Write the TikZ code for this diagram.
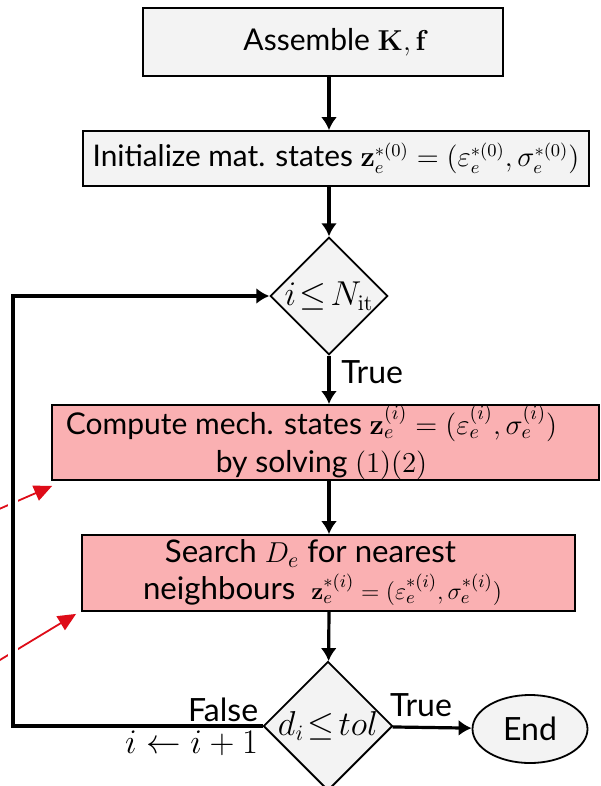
\documentclass[tikz,border=0pt]{standalone}
\usepackage[no-math]{fontspec}
\setmainfont{Lato}
\usepackage{amsmath}
\usepackage{tikz}
\usetikzlibrary{shapes.geometric,arrows.meta}
\definecolor{boxgray}{RGB}{243,243,243}
\definecolor{boxpink}{RGB}{250,176,178}
\definecolor{linkred}{RGB}{222,12,24}
\newcommand{\fsz}[1]{\fontsize{#1}{1.2\dimexpr#1pt\relax}\selectfont}

\begin{document}
\begin{tikzpicture}[x=0.5pt,y=-0.5pt,>={Latex[length=6.5pt,width=8pt]},
    font=\fsz{16},
    stepbox/.style={draw,line width=0.9pt,inner sep=0pt,align=center},
    decide/.style={diamond,draw,line width=0.9pt,fill=boxgray,inner sep=0pt},
    flow/.style={->,line width=1.6pt}]
        \useasboundingbox (0,0) rectangle (600,786);
        % boxes
        \node[stepbox,fill=boxgray,minimum width=180pt,minimum height=34pt,font=\fsz{15}] (asm) at (323,42) {\hspace{13pt}Assemble $\mathbf{K},\mathbf{f}$};
        \node[stepbox,fill=boxgray,minimum width=253pt,minimum height=27.5pt,font=\fsz{14.9}] (init) at (336,158.5) {Initialize mat. states {\fsz{13.4}$\mathbf{z}_e^{*(0)}=(\varepsilon_e^{*(0)},\sigma_e^{*(0)})$}};
        \node[decide,minimum width=58.5pt,minimum height=58.5pt,font=\fsz{16}] (loop) at (329,296) {$i\!\leq\! N_{\mathrm{it}}$};
        \node[stepbox,fill=boxpink,minimum width=273.5pt,minimum height=35.5pt,font=\fontsize{15}{19}\selectfont] (mech) at (325.5,442.5) {Compute mech. states {\fsz{14.8}$\mathbf{z}_e^{(i)}=(\varepsilon_e^{(i)},\sigma_e^{(i)})$}\hspace*{14pt}\\by solving {\fsz{14.8}$(1)(2)$}\hspace*{4pt}};
        \node[stepbox,fill=boxpink,minimum width=246.5pt,minimum height=38pt,font=\fontsize{15.6}{18.5}\selectfont] (srch) at (328.5,573) {Search $D_e$ for nearest\hspace*{18pt}\\neighbours\hspace{8pt}{\fsz{13}$\mathbf{z}_e^{*(i)}=(\varepsilon_e^{*(i)},\sigma_e^{*(i)})$}\hspace*{6pt}};
        \node[decide,minimum width=59.5pt,minimum height=59pt,font=\fsz{16}] (conv) at (328,726) {$d_i\!\leq\! tol$};
        \node[ellipse,draw,line width=0.9pt,fill=boxgray,minimum width=57.5pt,minimum height=34pt,inner sep=0pt] (end) at (530,729) {End};
        \coordinate (back) at (13,726);
        % red pointers
        \draw[linkred,line width=0.9pt,-{Triangle[length=9pt,width=8pt]}] (-10,513) -- ([shift={(1,5)}]mech.south west);
        \draw[linkred,line width=0.9pt,-{Triangle[length=9pt,width=8pt]}] (-10,666) -- ([shift={(-5,2)}]srch.south west);
        % flow
        \draw[flow] (asm.south -| loop) -- (init.north -| loop);
        \draw[flow] (init.south -| loop) -- (loop);
        \draw[flow] (loop) -- node[right,pos=0.35,xshift=2pt] {True} (loop |- mech.north);
        \draw[flow] (mech.south -| loop) -- (srch.north -| loop);
        \draw[flow] (srch.south -| loop) -- (conv);
        \draw[flow] (conv) -- node[above,pos=0.36,yshift=1pt] {True} (end);
        \draw[flow,line width=1.9pt,preaction={draw=white,line width=5pt,-}] (conv.west) -- (back) |- (loop.west);
        \node[anchor=south east,inner sep=2pt] at (conv.west) {False};
        \node[anchor=north east,inner sep=2pt] at (conv.west) {$i\leftarrow i+1$};
      \end{tikzpicture}
\end{document}
